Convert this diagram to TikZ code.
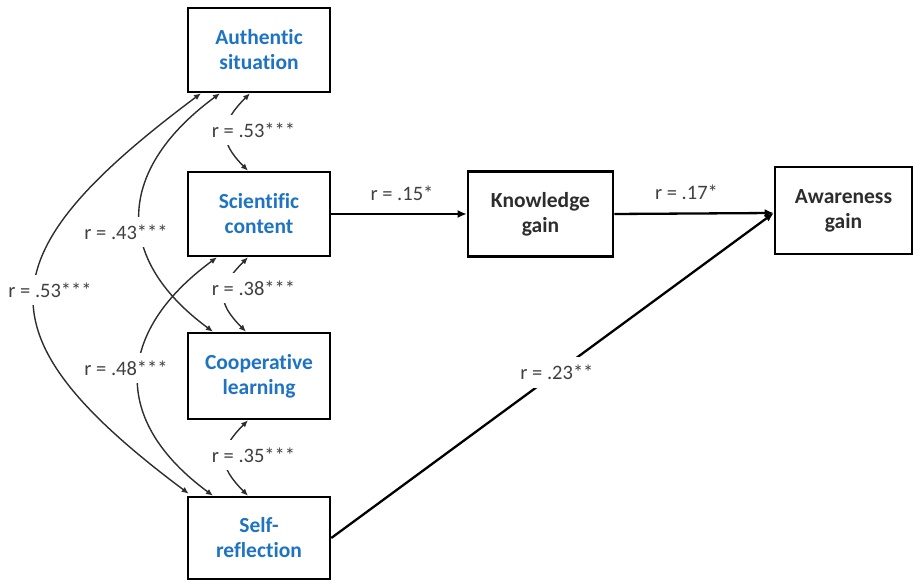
\documentclass[tikz,border=0pt]{standalone}
\usepackage{fontspec}
\setmainfont{Carlito}[Ligatures=CommonOff]
\usetikzlibrary{arrows.meta}
\definecolor{vblue}{RGB}{30,115,195}
\definecolor{tgray}{RGB}{64,64,64}
\definecolor{bgray}{RGB}{45,45,45}
\begin{document}
\begin{tikzpicture}[x=1pt,y=1pt,
  varbox/.style={draw=black,line width=2.6pt,inner sep=0pt,align=center,
    minimum width=142pt,minimum height=84pt,
    font=\fontsize{21.5}{25}\selectfont\bfseries},
  leftvar/.style={varbox,text=vblue},
  rightvar/.style={varbox,text=bgray},
  rlab/.style={fill=white,inner xsep=2pt,inner ysep=8pt,text=tgray,
    font=\fontsize{20.5}{25}\selectfont},
  plab/.style={inner sep=0pt,text=tgray,font=\fontsize{20.5}{25}\selectfont},
  corr/.style={line width=1.4pt,draw=bgray,
    {Latex[length=7pt,width=6pt]}-{Latex[length=7pt,width=6pt]}},
  regarrow/.style={draw=black,line width=2.3pt,-{Latex[length=9pt,width=8pt]}}
]
\useasboundingbox (0,0) rectangle (914,581);

% variable boxes
\node[leftvar] (AS) at (259,531) {Authentic\\situation};
\node[leftvar] (SC) at (259,367) {Scientific\\content};
\node[leftvar,minimum height=86pt] (CL) at (259,205) {Cooperative\\learning};
\node[leftvar,minimum height=82pt] (SR) at (259,43) {Self-\\reflection};
\node[rightvar,minimum width=145pt,minimum height=85pt] (KG) at (540.5,367) {Knowledge\\gain};
\node[rightvar,minimum width=137pt,minimum height=87pt] (AG) at (843.5,370.5) {Awareness\\gain};

\coordinate (tip) at ([yshift=-2.5pt]AG.west);

% correlations (curved, two-headed)
\draw[corr] ([xshift=-9pt]AS.south) .. controls +(-30,-30) and +(-30,30) .. ([xshift=-11pt]SC.north);
\draw[corr] ([xshift=-11pt]SC.south) .. controls +(-30,-30) and +(-30,30) .. ([xshift=-13pt]CL.north);
\draw[corr] ([xshift=-11pt]CL.south) .. controls +(-30,-30) and +(-30,30) .. ([xshift=-11pt]SR.north);
\draw[corr] ([xshift=-39pt]AS.south) .. controls +(-102,-75) and +(-102,75) .. ([xshift=-46pt]CL.north);
\draw[corr] ([xshift=-42pt]SC.south) .. controls +(-102,-75) and +(-102,75) .. ([xshift=-46pt]SR.north);
\draw[corr] ([xshift=-58pt]AS.south) .. controls +(-214,-160) and +(-214,160) .. ([xshift=2pt,yshift=2pt]SR.north west);

% correlation labels
\node[rlab] (l1) at (253.5,451) {r = .53***};
\node[rlab] (l2) at (253.5,293) {r = .38***};
\node[rlab] (l3) at (253.5,126) {r = .35***};
\node[rlab] (l4) at (126,349) {r = .43***};
\node[rlab] (l5) at (126,213) {r = .48***};
\node[rlab] (l6) at (50,291) {r = .53***};

% regression paths
\draw[regarrow,line width=2pt] (SC.east) -- (KG.west);
\draw[regarrow] (KG.east) -- (tip);
\draw[regarrow] (SR.east) -- (tip) node[rlab,pos=0.51] (l23) {r = .23**};

\node[plab] (l15) at (402,388) {r = .15*};
\node[plab] (l17) at (686.5,389) {r = .17*};
\end{tikzpicture}
\end{document}
